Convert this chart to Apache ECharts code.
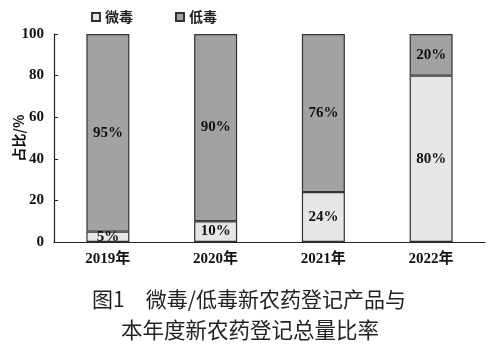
<!DOCTYPE html>
<html><head><meta charset="utf-8">
<script src="https://cdn.jsdelivr.net/npm/echarts@6/dist/echarts.min.js"></script>
<style>html,body{margin:0;padding:0;background:#fff}#c{width:492px;height:354px}</style>
</head><body><div id="c"></div>
<script>
const categories = ['2019年', '2020年', '2021年', '2022年'];
const microTox = [5, 10, 24, 80];
const lowTox = [95, 90, 76, 20];
const yTicks = [0, 20, 40, 60, 80, 100];
const seriesNames = ['微毒', '低毒'];
const captionLines = ['图1　微毒/低毒新农药登记产品与', '本年度新农药登记总量比率'];

const numFont = '"Liberation Serif","Noto Sans CJK SC",serif';
const chart = echarts.init(document.getElementById('c'));
const labelCfg = {
  show: true, position: 'inside', formatter: p => p.value + '%',
  fontFamily: numFont, fontWeight: 'bold', fontSize: 15, color: '#111'
};
chart.setOption({
  animation: false,
  legend: {
    top: 5, left: 86, itemGap: 42, itemWidth: 8, itemHeight: 8,
    icon: 'rect',
    textStyle: {fontFamily: '"Noto Sans CJK SC"', fontWeight: 'bold', fontSize: 14, color: '#222'},
    data: seriesNames
  },
  grid: {left: 54, right: 7, top: 34, bottom: 112, containLabel: false, outerBoundsMode: 'none'},
  xAxis: {
    type: 'category', data: categories,
    axisLine: {lineStyle: {color: '#222', width: 1.2}},
    axisTick: {show: false},
    axisLabel: {fontFamily: numFont, fontWeight: 'bold', fontSize: 15, color: '#111', margin: 10}
  },
  yAxis: {
    type: 'value', min: 0, max: 100, interval: 20,
    name: '占比/%', nameLocation: 'middle', nameGap: 28, nameRotate: 90, nameMoveOverlap: false,
    nameTextStyle: {fontFamily: '"Noto Sans CJK SC"', fontWeight: 'bold', fontSize: 14, color: '#111'},
    splitLine: {show: false},
    axisLine: {show: true, lineStyle: {color: '#222', width: 1.2}},
    axisTick: {show: true, inside: true, length: 4, lineStyle: {color: '#222'}},
    axisLabel: {fontFamily: numFont, fontWeight: 'bold', fontSize: 15, color: '#111', margin: 10,
      formatter: v => yTicks.includes(v) ? String(v) : ''}
  },
  series: [
    {name: seriesNames[0], type: 'bar', stack: 's', data: microTox, barWidth: 43,
     itemStyle: {color: '#e6e6e6', borderColor: '#333', borderWidth: 1.2}, label: labelCfg},
    {name: seriesNames[1], type: 'bar', stack: 's', data: lowTox, barWidth: 43,
     itemStyle: {color: '#a2a2a2', borderColor: '#333', borderWidth: 1.2}, label: labelCfg}
  ],
  graphic: [
    {type: 'text', x: 249, y: 289,
     style: {text: captionLines[0], font: '21px "Noto Sans CJK SC"', fill: '#222', align: 'center', verticalAlign: 'top'}},
    {type: 'text', x: 250, y: 319,
     style: {text: captionLines[1], font: '21.5px "Noto Sans CJK SC"', fill: '#222', align: 'center', verticalAlign: 'top'}}
  ]
});
</script></body></html>
